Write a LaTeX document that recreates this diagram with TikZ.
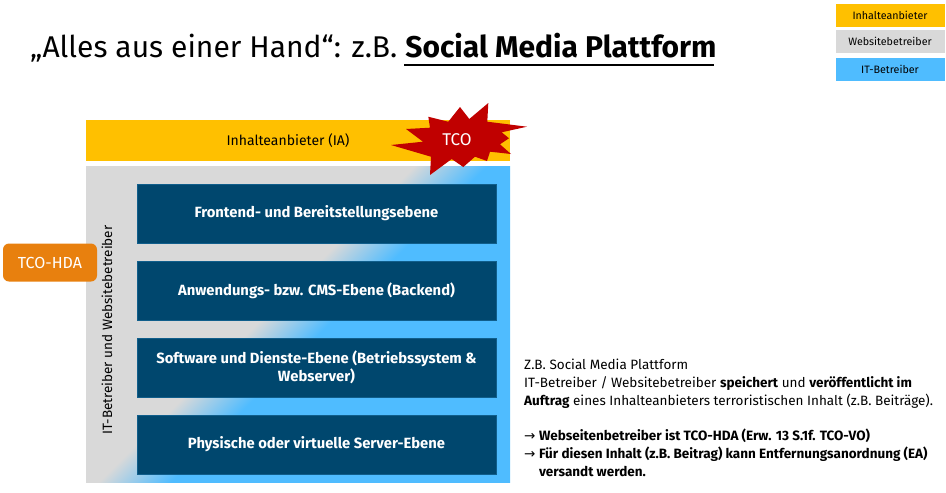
\documentclass[tikz,border=0pt]{standalone}
\usepackage{fontspec}
\setmainfont{Fira Sans}
\newfontfamily\titlefont{Fira Sans}
\newfontfamily\arrowfont{DejaVu Sans}
\definecolor{ia}{HTML}{FFC000}
\definecolor{wb}{HTML}{D9D9D9}
\definecolor{itb}{HTML}{4FBCFF}
\definecolor{layer}{HTML}{00476E}
\definecolor{tco}{HTML}{C00000}
\definecolor{hda}{HTML}{E8800E}
\pgfdeclarehorizontalshading{gbshade}{100bp}{color(0bp)=(wb); color(46bp)=(wb); color(53bp)=(itb); color(100bp)=(itb)}
\begin{document}
\begin{tikzpicture}[x=1pt,y=-1pt,
  legendbox/.style={minimum width=109pt,minimum height=23pt,inner sep=0pt,font=\fontsize{10.7}{12}\selectfont},
  layerbox/.style={fill=layer,draw=layer!80!itb,line width=0.6pt,minimum width=359pt,minimum height=59pt,inner sep=0pt,text=white,align=center,font=\bfseries\fontsize{14.8}{18}\selectfont},
  bodytext/.style={anchor=north west,inner sep=0pt,align=left,font=\fontsize{13.5}{18}\selectfont}]
\useasboundingbox (0,0) rectangle (946,493);
% title
\node[anchor=base west,inner sep=0pt,font=\titlefont\fontsize{30}{36}\selectfont] (title) at (30,57)
  {„Alles aus einer Hand“: z.B. \textbf{Social Media Plattform}};
\coordinate (ulA) at (404,65);
\coordinate (ulB) at (714,65);
\draw[line width=2pt] (ulA) -- (ulB);
% legend
\node[legendbox,fill=ia] (lia) at (890,15) {Inhalteanbieter};
\node[legendbox,fill=wb] (lwb) at (890,41.5) {Websitebetreiber};
\node[legendbox,fill=itb] (lit) at (890,69.5) {IT-Betreiber};
% yellow bar
\node[fill=ia,minimum width=424pt,minimum height=41pt,inner sep=0pt] (iabar) at (298,140.5) {};
\node[font=\fontsize{14}{17}\selectfont] (iatext) at (288,141) {Inhalteanbieter (IA)};
% gray/blue box
\shade[shading=gbshade,shading angle=-45] (86,166) rectangle (510,482);
\node[minimum width=424pt,minimum height=316pt,inner sep=0pt] (gbbox) at (298,324) {};
% layers
\node[layerbox] (l1) at (316.5,213.5) {Frontend- und Bereitstellungsebene};
\node[layerbox] (l2) at (316.5,291) {Anwendungs- bzw. CMS-Ebene (Backend)};
\node[layerbox] (l3) at (316.5,367.5) {Software und Dienste-Ebene (Betriebssystem \&\\Webserver)};
\node[layerbox] (l4) at (316.5,444.5) {Physische oder virtuelle Server-Ebene};
% rotated label
\node[rotate=90,font=\fontsize{13.5}{17}\selectfont,inner sep=0pt] (vlabel) at (107,330) {IT-Betreiber und Websitebetreiber};
% TCO-HDA
\node[fill=hda,rounded corners=6pt,minimum width=94pt,minimum height=38pt,inner sep=0pt,text=white,font=\fontsize{16}{18}\selectfont] (hda) at (50,262.5) {TCO-HDA};
% star
\fill[tco] (391,145) -- (423,141.7) -- (406,129) -- (430,127.7) -- (428.3,116.7) -- (448.3,121.7) -- (460,107) -- (469.3,119) -- (488.3,103) -- (487.3,121.7) -- (527,126.7) -- (501.7,132.3) -- (509,138.3) -- (500,144.3) -- (511,154) -- (490,151.7) -- (487,161) -- (475,156.7) -- (463.3,167) -- (451.7,159) -- (430,175) -- (431,156.7) -- cycle;
\node[text=white,font=\fontsize{17}{20}\selectfont] (tco) at (457,140) {TCO};
% right text
\node[bodytext] (desc) at (524,359) {Z.B. Social Media Plattform\\
IT-Betreiber / Websitebetreiber \textbf{speichert} und \textbf{veröffentlicht im}\\
\textbf{Auftrag} eines Inhalteanbieters terroristischen Inhalt (z.B. Beiträge).};
\node[bodytext] (concl) at (524,429) {{\arrowfont →} \textbf{Webseitenbetreiber ist TCO-HDA (Erw. 13 S.1f. TCO-VO)}\\
{\arrowfont →} \textbf{Für diesen Inhalt (z.B. Beitrag) kann Entfernungsanordnung (EA)}\\
\hphantom{{\arrowfont →} }\textbf{versandt werden.}};
\end{tikzpicture}
\end{document}
